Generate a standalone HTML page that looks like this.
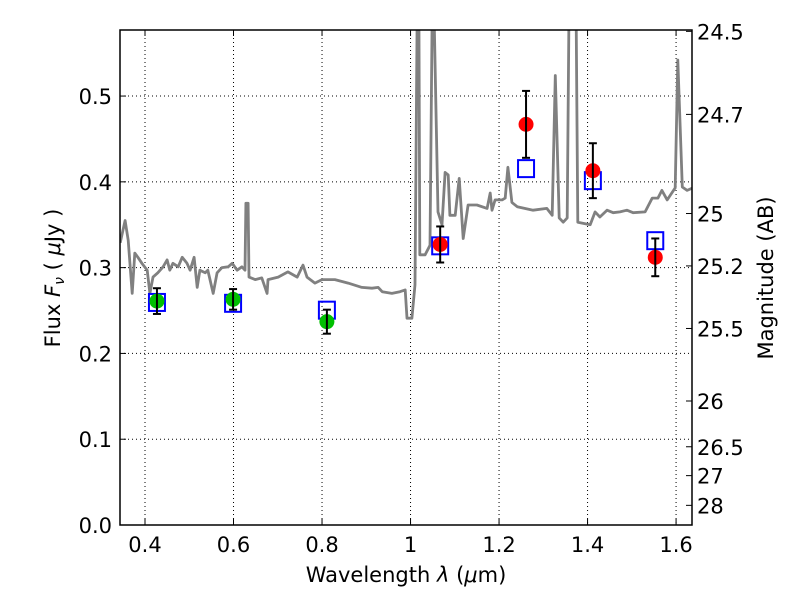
<!DOCTYPE html>
<html><head><meta charset="utf-8"><style>
body{margin:0;background:#fff;}
svg text{font-family:"DejaVu Sans","Liberation Sans",sans-serif;}
</style></head><body>
<svg id="chart" width="800" height="600" xmlns="http://www.w3.org/2000/svg">
<rect width="800" height="600" fill="#fff"/>
<g id="grid"></g><g id="spec"></g><g id="marks"></g><g id="axes"></g>
</svg>
<script>
const specWave=[0.344,0.355,0.362,0.371,0.377,0.384,0.393,0.405,0.411,0.418,0.429,0.441,0.450,0.456,0.463,0.475,0.484,0.495,0.502,0.511,0.518,0.524,0.536,0.542,0.554,0.563,0.574,0.588,0.597,0.608,0.619,0.626,0.628,0.633,0.635,0.649,0.664,0.676,0.678,0.701,0.723,0.744,0.757,0.766,0.784,0.800,0.829,0.859,0.890,0.913,0.927,0.936,0.958,0.976,0.988,0.992,1.003,1.010,1.015,1.019,1.021,1.033,1.044,1.049,1.053,1.062,1.071,1.078,1.085,1.089,1.101,1.110,1.119,1.130,1.150,1.173,1.180,1.184,1.191,1.207,1.214,1.220,1.229,1.241,1.277,1.308,1.320,1.327,1.336,1.345,1.354,1.358,1.374,1.378,1.406,1.417,1.428,1.444,1.458,1.473,1.489,1.503,1.530,1.546,1.559,1.568,1.580,1.598,1.604,1.614,1.625,1.638];
const specFlux=[0.329,0.355,0.332,0.270,0.317,0.312,0.305,0.297,0.270,0.289,0.294,0.301,0.309,0.297,0.305,0.301,0.312,0.305,0.297,0.312,0.277,0.297,0.294,0.297,0.270,0.294,0.300,0.301,0.305,0.297,0.301,0.297,0.375,0.375,0.289,0.286,0.288,0.270,0.286,0.289,0.295,0.289,0.303,0.289,0.282,0.286,0.286,0.282,0.277,0.276,0.277,0.272,0.270,0.272,0.274,0.241,0.241,0.280,0.60,0.60,0.315,0.315,0.326,0.60,0.60,0.365,0.350,0.411,0.408,0.361,0.361,0.404,0.334,0.373,0.373,0.369,0.387,0.367,0.379,0.379,0.381,0.417,0.376,0.371,0.367,0.369,0.361,0.524,0.358,0.353,0.358,0.60,0.60,0.353,0.350,0.365,0.359,0.367,0.364,0.365,0.367,0.364,0.365,0.381,0.381,0.390,0.379,0.393,0.542,0.394,0.390,0.393];
const modelWave=[0.427,0.599,0.811,1.067,1.261,1.412,1.553];
const modelFlux=[0.260,0.259,0.251,0.326,0.416,0.402,0.332];
const greenWave=[0.427,0.599,0.811];
const greenFlux=[0.261,0.263,0.237];
const greenErr=[0.015,0.012,0.014];
const redWave=[1.067,1.261,1.412,1.553];
const redFlux=[0.327,0.467,0.413,0.312];
const redErr=[0.021,0.039,0.032,0.022];
const xTicks=[0.4,0.6,0.8,1.0,1.2,1.4,1.6];
const xTickLabels=["0.4","0.6","0.8","1","1.2","1.4","1.6"];
const yTicks=[0,0.1,0.2,0.3,0.4,0.5];
const yTickLabels=["0.0","0.1","0.2","0.3","0.4","0.5"];
const magTicks=[24.5,24.7,25,25.2,25.5,26,26.5,27,28];
const magTickLabels=["24.5","24.7","25","25.2","25.5","26","26.5","27","28"];

const L=120,R=692,T=30,B=525;
const xMin=0.3435,xMax=1.636,yMin=0,yMax=0.577;
const X=v=>L+(v-xMin)/(xMax-xMin)*(R-L);
const Y=v=>B-(v-yMin)/(yMax-yMin)*(B-T);
const NS="http://www.w3.org/2000/svg";
function mk(tag,attrs,parent,txt){const e=document.createElementNS(NS,tag);for(const k in attrs)e.setAttribute(k,attrs[k]);if(txt!==undefined)e.textContent=txt;document.getElementById(parent).appendChild(e);return e;}

xTicks.forEach(v=>{const e=mk('line',{x1:X(v),x2:X(v),y1:T,y2:B,stroke:'#000','stroke-width':1,'stroke-dasharray':'1,3'},'grid');

});
yTicks.forEach(v=>{const e=mk('line',{x1:L,x2:R,y1:Y(v),y2:Y(v),stroke:'#000','stroke-width':1,'stroke-dasharray':'1,3'},'grid');

});

mk('clipPath',{id:'clip'},'spec');mk('rect',{x:L,y:T,width:R-L,height:B-T},'clip');
const pts=specWave.map((w,i)=>X(w).toFixed(1)+','+Y(specFlux[i]).toFixed(1)).join(' ');
const sp=mk('polyline',{points:pts,fill:'none',stroke:'#808080','stroke-width':2.8,'stroke-linejoin':'round','clip-path':'url(#clip)'},'spec');



modelWave.forEach((w,i)=>{const e=mk('rect',{x:X(w)-8,y:Y(modelFlux[i])-8,width:16,height:17,fill:'none',stroke:'#0000ff','stroke-width':2},'marks');

});

function pt(w,f,err,color,name){
  const g=mk('g',{},'marks');
  
  
  const x=X(w),y1=Y(f+err),y2=Y(f-err);
  const c=document.createElementNS(NS,'circle');c.setAttribute('cx',x);c.setAttribute('cy',Y(f));c.setAttribute('r',7.5);c.setAttribute('fill',color);g.appendChild(c);
  [[x,y1,x,y2],[x-4,y1,x+4,y1],[x-4,y2,x+4,y2]].forEach(a=>{const l=document.createElementNS(NS,'line');l.setAttribute('x1',a[0]);l.setAttribute('y1',a[1]);l.setAttribute('x2',a[2]);l.setAttribute('y2',a[3]);l.setAttribute('stroke','#000');l.setAttribute('stroke-width',2);g.appendChild(l);});
}
greenWave.forEach((w,i)=>pt(w,greenFlux[i],greenErr[i],'#00c000','observed-point-hst'));
redWave.forEach((w,i)=>pt(w,redFlux[i],redErr[i],'#ff0000','observed-point-ir'));

const fr=mk('rect',{x:L,y:T,width:R-L,height:B-T,fill:'none',stroke:'#000','stroke-width':1.5},'axes');


xTicks.forEach((v,i)=>{mk('line',{x1:X(v),x2:X(v),y1:B,y2:B-6,stroke:'#000'},'axes');mk('line',{x1:X(v),x2:X(v),y1:T,y2:T+6,stroke:'#000'},'axes');
const t=mk('text',{x:X(v),y:B+27,'font-size':21,'text-anchor':'middle'},'axes',xTickLabels[i]);

});
yTicks.forEach((v,i)=>{mk('line',{x1:L,x2:L+6,y1:Y(v),y2:Y(v),stroke:'#000'},'axes');
const t=mk('text',{x:L-8,y:Y(v)+8,'font-size':21,'text-anchor':'end'},'axes',yTickLabels[i]);

});
magTicks.forEach((m,i)=>{const f=Math.pow(10,(23.9-m)/2.5);const y=Y(f);mk('line',{x1:R,x2:R-6,y1:y,y2:y,stroke:'#000'},'axes');
const t=mk('text',{x:R+5,y:y+8,'font-size':21},'axes',magTickLabels[i]);

});
</script>
<svg style="position:absolute;left:0;top:0" width="800" height="600">
<text x="406" y="582" font-size="21" text-anchor="middle" font-family="DejaVu Sans, Liberation Sans, sans-serif">Wavelength  <tspan font-style="italic">λ</tspan> (<tspan font-style="italic">μ</tspan>m)</text>
<text transform="translate(60,278) rotate(-90)" font-size="21" text-anchor="middle" font-family="DejaVu Sans, Liberation Sans, sans-serif">Flux  <tspan font-style="italic">F<tspan font-size="14" dy="4">ν</tspan></tspan><tspan dy="-4">  (  </tspan><tspan font-style="italic">μ</tspan>Jy )</text>
<text transform="translate(773,278) rotate(-90)" font-size="21" text-anchor="middle" font-family="DejaVu Sans, Liberation Sans, sans-serif">Magnitude (AB)</text>
</svg>
</body></html>
